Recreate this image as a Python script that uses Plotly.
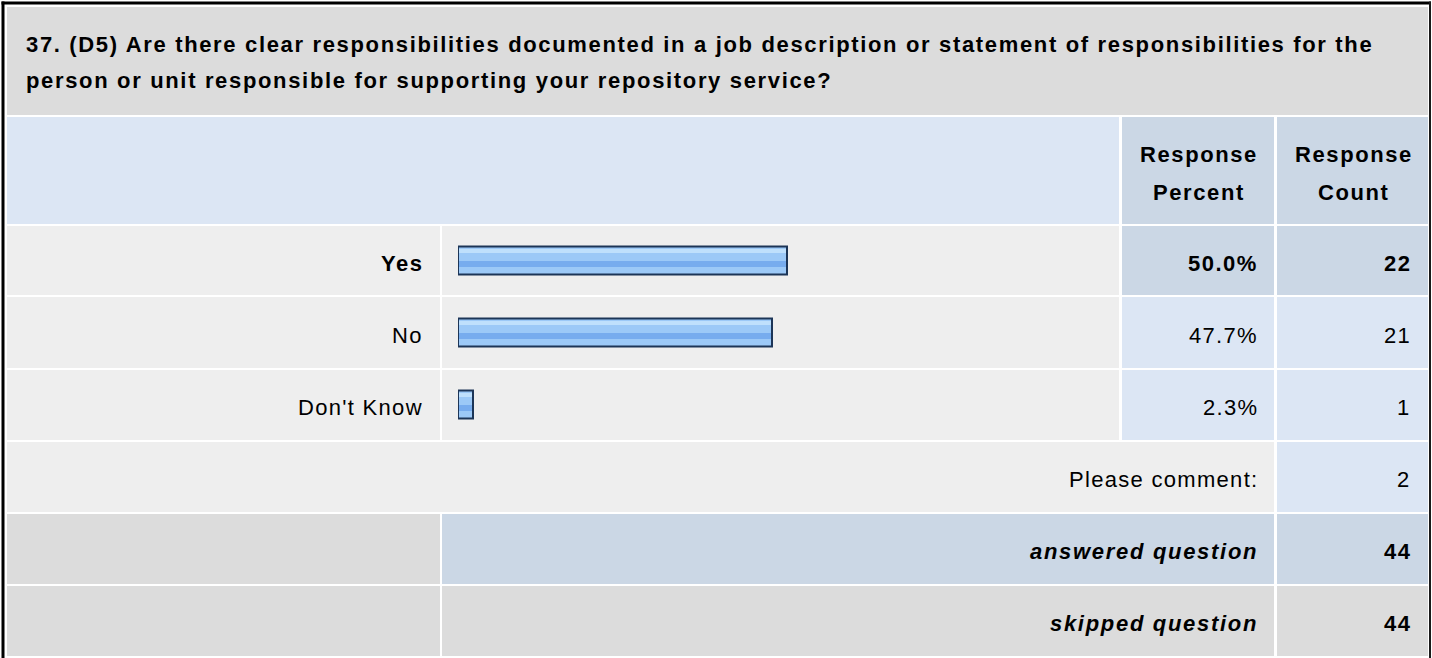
import plotly.graph_objects as go

# ---------------- data ----------------
title_lines = [
    "37. (D5) Are there clear responsibilities documented in a job description or statement of responsibilities for the",
    "person or unit responsible for supporting your repository service?",
]
header_percent = ["Response", "Percent"]
header_count = ["Response", "Count"]
categories = ["Yes", "No", "Don't Know"]
percents = [50.0, 47.7, 2.3]
counts = [22, 21, 1]
comment_label = "Please comment:"
comment_count = 2
answered_label = "answered question"
answered_count = 44
skipped_label = "skipped question"
skipped_count = 44

# ---------------- layout helpers ----------------
W, H = 1432, 658
FONT = "Liberation Sans, Arial, Helvetica, sans-serif"
FS = 22


def px(x):
    return x / W


def py(y):
    return 1 - y / H


C_TITLE = "#DCDCDC"
C_LBLUE = "#DCE6F4"
C_DBLUE = "#CBD7E5"
C_LGREY = "#EEEEEE"
C_DGREY = "#DCDCDC"

fig = go.Figure()
shapes = []


def cell(x0, x1, y0, y1, color):
    shapes.append(dict(type="rect", xref="paper", yref="paper",
                       x0=px(x0), x1=px(x1), y0=py(y1), y1=py(y0),
                       fillcolor=color, line=dict(width=0), layer="below"))


def txt(x, y, s, anchor="right", bold=False, italic=False, ls=None):
    if ls is None:
        ls = 1.5 if bold else 1.3
    fig.add_annotation(
        x=px(x), y=py(y), xref="paper", yref="paper",
        text=f'<span style="letter-spacing:{ls}px">{s}</span>',
        showarrow=False, xanchor=anchor, yanchor="middle",
        font=dict(family=FONT, size=FS, color="#000000",
                  weight="bold" if bold else "normal",
                  style="italic" if italic else "normal"))


# column edges
XL0, XL1 = 7, 440
XB0, XB1 = 442, 1119
XP0, XP1 = 1122, 1274
XC0, XC1 = 1277, 1428
X_LABEL, X_PCT, X_CNT = 425, 1260, 1413

# title
cell(7, 1428, 7, 115, C_TITLE)
txt(24, 44.5, title_lines[0], anchor="left", bold=True, ls=1.66)
txt(24, 80.5, title_lines[1], anchor="left", bold=True, ls=1.66)

# header row
cell(7, XB1, 117, 224, C_LBLUE)
cell(XP0, XP1, 117, 224, C_DBLUE)
cell(XC0, XC1, 117, 224, C_DBLUE)
txt((XP0 + XP1) / 2 + 1, 154, header_percent[0], anchor="center", bold=True, ls=1.6)
txt((XP0 + XP1) / 2 + 1, 192, header_percent[1], anchor="center", bold=True, ls=1.6)
txt((XC0 + XC1) / 2 + 1, 154, header_count[0], anchor="center", bold=True, ls=1.6)
txt((XC0 + XC1) / 2 + 1, 192, header_count[1], anchor="center", bold=True, ls=1.6)

# answer rows
row_edges = [(226, 295), (297, 368), (370, 440)]
for i, (cat, p, c) in enumerate(zip(categories, percents, counts)):
    y0, y1 = row_edges[i]
    top = i == 0
    cell(XL0, XL1, y0, y1, C_LGREY)
    cell(XB0, XB1, y0, y1, C_LGREY)
    cell(XP0, XP1, y0, y1, C_DBLUE if top else C_LBLUE)
    cell(XC0, XC1, y0, y1, C_DBLUE if top else C_LBLUE)
    yc = (y0 + y1) / 2 + 2.5
    txt(X_LABEL, yc, cat, bold=top)
    txt(X_PCT, yc, f"{p:.1f}%", bold=top)
    txt(X_CNT, yc, str(c), bold=top)

# comment row
cell(XL0, XP1, 442, 512, C_LGREY)
cell(XC0, XC1, 442, 512, C_LBLUE)
txt(X_PCT, 479.5, comment_label)
txt(X_CNT, 479.5, str(comment_count))

# answered row
cell(XL0, XL1, 514, 584, C_DGREY)
cell(XB0, XP1, 514, 584, C_DBLUE)
cell(XC0, XC1, 514, 584, C_DBLUE)
txt(X_PCT, 551.5, answered_label, bold=True, italic=True, ls=1.7)
txt(X_CNT, 551.5, str(answered_count), bold=True)

# skipped row
cell(XL0, XL1, 586, 656, C_DGREY)
cell(XB0, XP1, 586, 656, C_DGREY)
cell(XC0, XC1, 586, 656, C_DGREY)
txt(X_PCT, 623.5, skipped_label, bold=True, italic=True, ls=1.7)
txt(X_CNT, 623.5, str(skipped_count), bold=True)

# outer border
shapes.append(dict(type="line", xref="paper", yref="paper",
                   x0=px(3), x1=px(3), y0=py(1.5), y1=py(700),
                   line=dict(color="#000000", width=3), layer="below"))
shapes.append(dict(type="line", xref="paper", yref="paper",
                   x0=px(1.5), x1=px(1431), y0=py(3), y1=py(3),
                   line=dict(color="#000000", width=3), layer="below"))
shapes.append(dict(type="line", xref="paper", yref="paper",
                   x0=px(1430), x1=px(1430), y0=py(1.5), y1=py(700),
                   line=dict(color="#1A1A1A", width=2), layer="below"))

# ---------------- bars ----------------
common = dict(y=categories, x=percents, orientation="h",
              hoverinfo="skip", showlegend=False)
fig.add_bar(**common, width=0.4, marker=dict(color="#9CC9F7", line=dict(width=0)))
fig.add_bar(**common, width=0.06, offset=-0.165, marker=dict(color="#BFE0FC", line=dict(width=0)))
fig.add_bar(**common, width=0.075, offset=0.005, marker=dict(color="#77ACEE", line=dict(width=0)))
fig.add_bar(**common, width=0.4, marker=dict(color="rgba(0,0,0,0)", line=dict(width=2, color="#1C3557")))

fig.update_layout(
    width=W, height=H, autosize=False,
    margin=dict(l=0, r=0, t=0, b=0, pad=0),
    paper_bgcolor="#FFFFFF", plot_bgcolor="rgba(0,0,0,0)",
    barmode="overlay", bargap=0,
    shapes=shapes,
    xaxis=dict(range=[0, 100], domain=[px(458), px(1116)], visible=False, fixedrange=True),
    yaxis=dict(type="category", categoryorder="array", categoryarray=categories,
               range=[2.5, -0.5], domain=[py(440.5), py(224.5)], visible=False, fixedrange=True),
)

fig.write_html("out.html", config={"displayModeBar": False},
               post_script="document.body.style.margin='0';")
